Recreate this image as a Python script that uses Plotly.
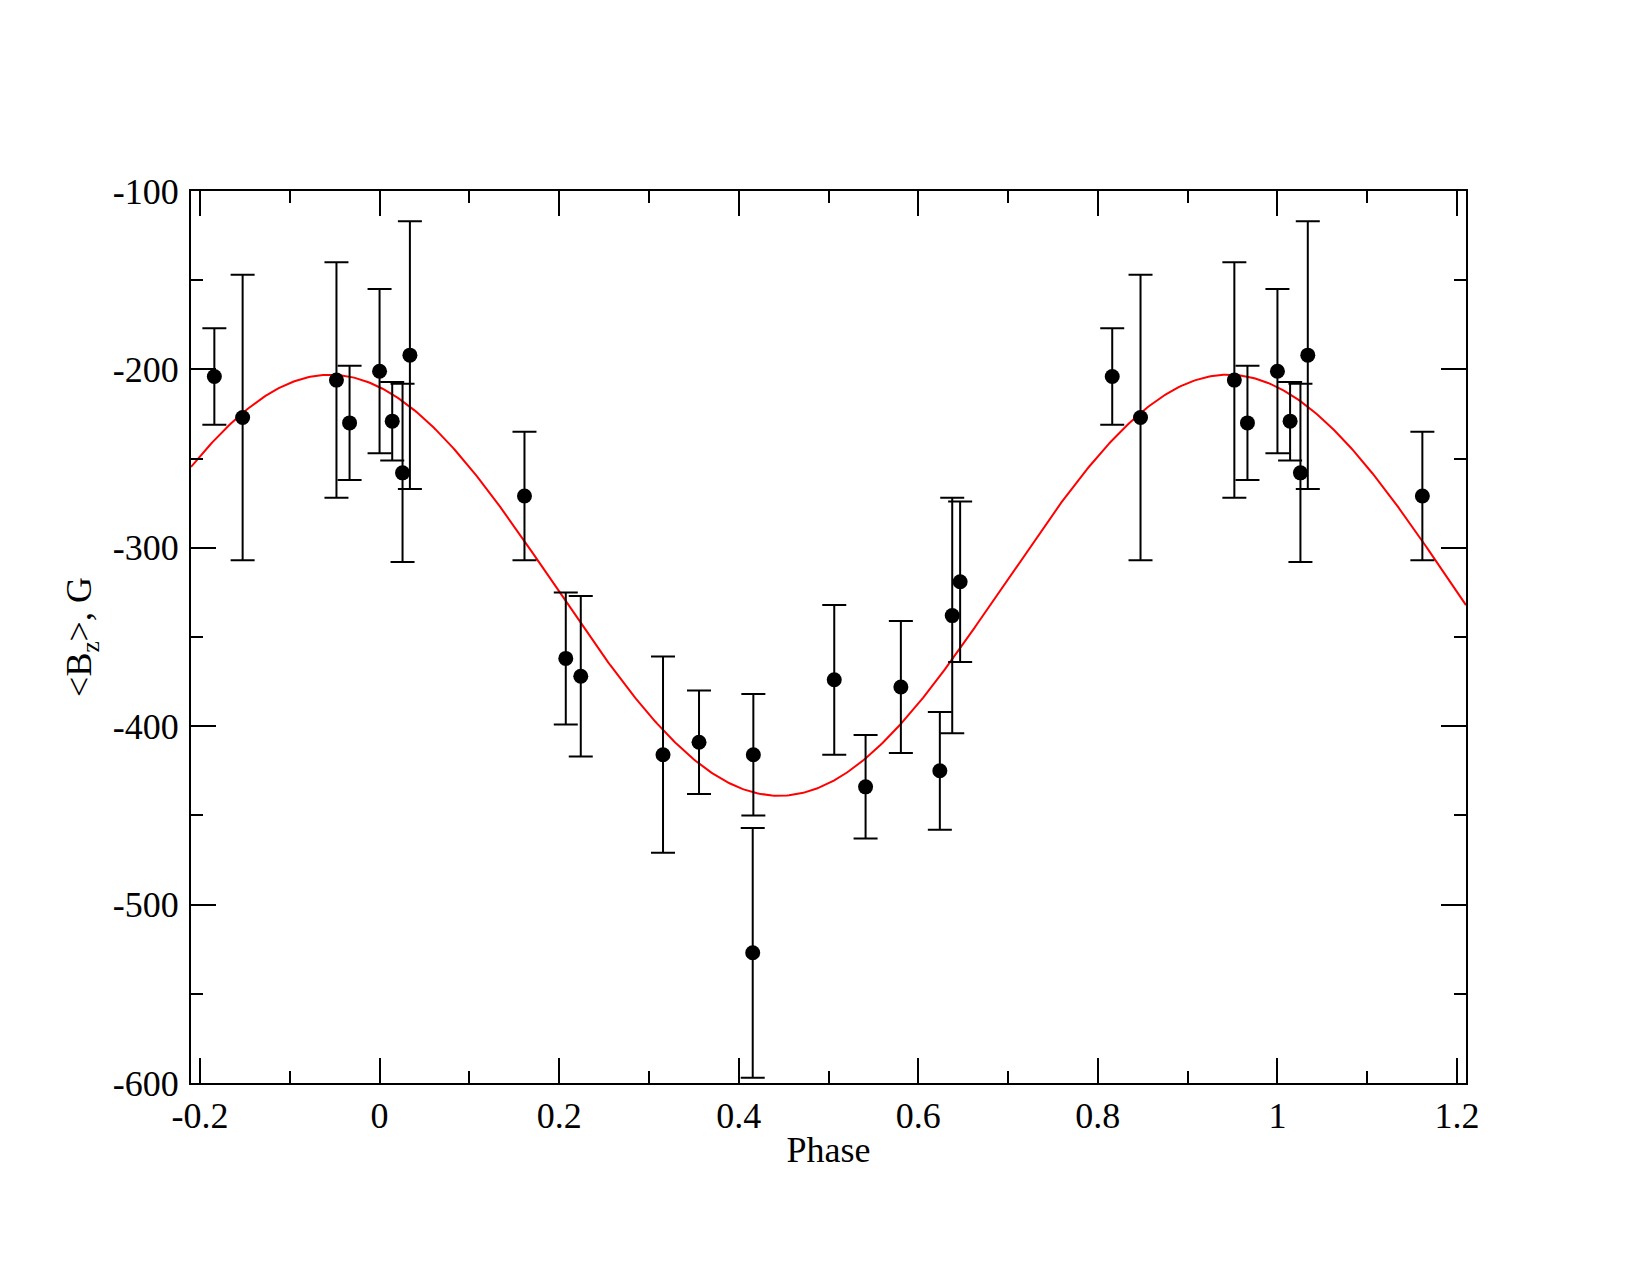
import numpy as np
import plotly.graph_objects as go

# Measured longitudinal field <Bz> vs rotational phase (base cycle 0..1)
phase = [0.0000, 0.0141, 0.0256, 0.0338, 0.1614, 0.2074, 0.2241, 0.3157,
         0.3558, 0.4163, 0.4156, 0.5064, 0.5413, 0.5806, 0.6240, 0.6378,
         0.6466, 0.8160, 0.8475, 0.9520, 0.9666]
bz = [-201, -229, -258, -192, -271, -362, -372, -416,
      -409, -416, -527, -374, -434, -378, -425, -338,
      -319, -204, -227, -206, -230]
bz_err = [46, 22, 50, 75, 36, 37, 45, 55,
          29, 34, 70, 42, 29, 37, 33, 66,
          45, 27, 80, 66, 32]

# Sinusoidal fit parameters
fit_mean = -321.0
fit_amp = 118.0
fit_phase_max = 0.945

# tick values and labels
x_tickvals = [-0.2, 0.0, 0.2, 0.4, 0.6, 0.8, 1.0, 1.2]
x_ticktext = ["-0.2", "0", "0.2", "0.4", "0.6", "0.8", "1", "1.2"]
y_tickvals = [-600, -500, -400, -300, -200, -100]
y_ticktext = ["-600", "-500", "-400", "-300", "-200", "-100"]

# phase window shown
win_lo, win_hi = -0.2, 1.2

# repeat points outside the base cycle within the window
px, py, pe = [], [], []
for p, b, e in zip(phase, bz, bz_err):
    for shift in (-1, 0, 1):
        q = p + shift
        if win_lo <= q <= win_hi:
            px.append(q)
            py.append(b)
            pe.append(e)

xs = np.linspace(-0.21, 1.21, 600)
ys = fit_mean + fit_amp * np.cos(2 * np.pi * (xs - fit_phase_max))

fig = go.Figure()
fig.add_trace(go.Scatter(x=xs, y=ys, mode="lines",
                         line=dict(color="#ff0000", width=2),
                         showlegend=False, hoverinfo="skip"))
fig.add_trace(go.Scatter(x=px, y=py, mode="markers",
                         marker=dict(color="black", size=15, symbol="circle"),
                         error_y=dict(type="data", array=pe, visible=True,
                                      color="black", thickness=2, width=12),
                         showlegend=False))

font_family = "Liberation Serif, Times New Roman, serif"
fig.update_layout(
    width=1650, height=1275,
    margin=dict(l=191, r=184, t=191, b=192),
    paper_bgcolor="white", plot_bgcolor="white",
    font=dict(family=font_family, color="black", size=36),
    showlegend=False,
)
fig.update_xaxes(
    range=[-0.21, 1.21], tickmode="array", tickvals=x_tickvals, ticktext=x_ticktext,
    showgrid=False, zeroline=False,
    showline=True, linecolor="black", linewidth=2, mirror="allticks",
    ticks="inside", ticklen=25, tickwidth=2, tickcolor="black",
    minor=dict(dtick=0.1, tick0=-0.2, ticks="inside", ticklen=12, tickwidth=2,
               tickcolor="black", showgrid=False),
    tickfont=dict(size=36, family=font_family),
    title=dict(text="Phase", font=dict(size=36, family=font_family), standoff=2),
)
fig.update_yaxes(
    range=[-600, -100], tickmode="array", tickvals=y_tickvals, ticktext=y_ticktext,
    showgrid=False, zeroline=False,
    showline=True, linecolor="black", linewidth=2, mirror="allticks",
    ticks="inside", ticklen=25, tickwidth=2, tickcolor="black",
    minor=dict(dtick=50, tick0=-600, ticks="inside", ticklen=12, tickwidth=2,
               tickcolor="black", showgrid=False),
    tickfont=dict(size=36, family=font_family),
    ticklabelstandoff=3,
    title=dict(text="&lt;B<sub>z</sub>&gt;, G", font=dict(size=36, family=font_family),
               standoff=10),
)

fig.write_html("out.html")
